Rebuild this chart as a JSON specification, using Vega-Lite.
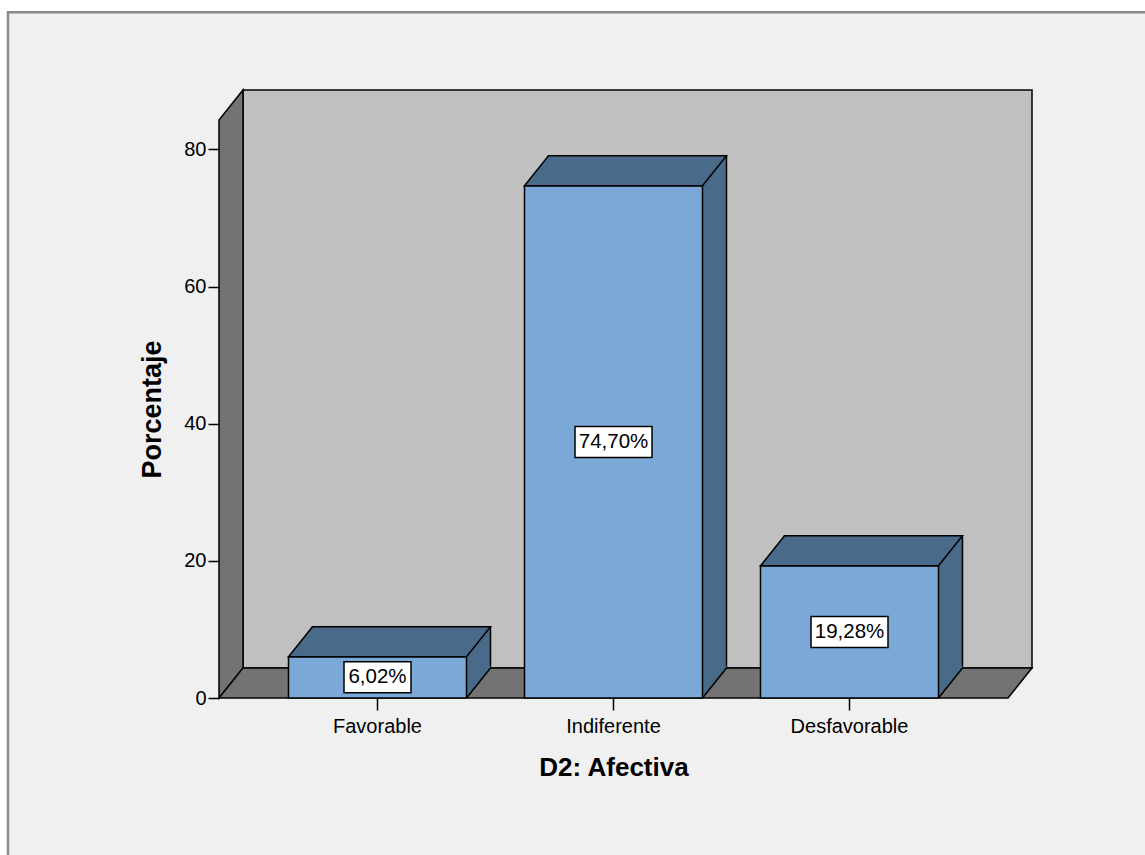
{
  "$schema": "https://vega.github.io/schema/vega-lite/v6.json",
  "width": 789,
  "height": 578,
  "autosize": {"type": "none"},
  "padding": {"left": 219, "top": 120, "right": 137, "bottom": 157},
  "background": "white",
  "config": {
    "view": {"stroke": null},
    "font": "Liberation Sans",
    "locale": {
      "number": {"decimal": ",", "thousands": ".", "grouping": [3], "currency": ["", "%"]}
    }
  },
  "datasets": {
    "afectiva": [
      {"Categoria": "Favorable", "porcentaje": 6.02},
      {"Categoria": "Indiferente", "porcentaje": 74.70},
      {"Categoria": "Desfavorable", "porcentaje": 19.28}
    ]
  },
  "data": {"name": "afectiva"},
  "resolve": {"scale": {"y": "independent"}},
  "layer": [
    {
      "layer": [
        {
          "data": {"values": [{}]},
          "mark": {"type": "point", "shape": "M -605.5 0 H 1000 V 1000 H -605.5 Z", "size": 4, "filled": true, "fill": "#f0f0f0", "stroke": "#8a8a8a", "strokeWidth": 2.5, "opacity": 1},
          "encoding": {"y": {"datum": 100, "type": "quantitative", "scale": {"domain": [0, 84.3], "nice": false}}}
        },
        {
          "data": {"values": [{}]},
          "mark": {"type": "point", "shape": "M -370.5 -30 H 418.5 V -608 H -370.5 Z", "size": 4, "filled": true, "fill": "#c0c0c0", "stroke": "#000000", "strokeWidth": 1.5, "opacity": 1},
          "encoding": {"y": {"datum": 0, "type": "quantitative", "scale": {"domain": [0, 84.3], "nice": false}}}
        },
        {
          "data": {"values": [{}]},
          "mark": {"type": "point", "shape": "M -394.5 0 V -578 L -370.5 -608 V -30 Z", "size": 4, "filled": true, "fill": "#737373", "stroke": "#000000", "strokeWidth": 1.5, "opacity": 1},
          "encoding": {"y": {"datum": 0, "type": "quantitative", "scale": {"domain": [0, 84.3], "nice": false}}}
        },
        {
          "data": {"values": [{}]},
          "mark": {"type": "point", "shape": "M -394.5 0 H 394.5 L 418.5 -30 H -370.5 Z", "size": 4, "filled": true, "fill": "#737373", "stroke": "#000000", "strokeWidth": 1.5, "opacity": 1},
          "encoding": {"y": {"datum": 0, "type": "quantitative", "scale": {"domain": [0, 84.3], "nice": false}}}
        },
        {
          "mark": {"type": "bar", "fill": "#4a6a89", "stroke": "#000000", "strokeWidth": 1.5, "xOffset": 24, "yOffset": -30, "y2Offset": -30},
          "encoding": {
            "x": {"field": "Categoria", "type": "nominal", "sort": null, "scale": {"paddingInner": 0.24576, "paddingOuter": 0.29449}},
            "y": {"field": "porcentaje", "type": "quantitative", "scale": {"domain": [0, 84.3], "nice": false}}
          }
        },
        {
          "mark": {"type": "point", "shape": "M 89 0 L 113 -30 V -32 H 89 Z", "size": 4, "filled": true, "fill": "#4a6a89", "strokeWidth": 0, "opacity": 1},
          "encoding": {
            "x": {"field": "Categoria", "type": "nominal", "sort": null},
            "y": {"datum": 0, "type": "quantitative", "scale": {"domain": [0, 84.3], "nice": false}}
          }
        },
        {
          "mark": {"type": "point", "shape": "M 89 0 L 113 -30", "size": 4, "filled": false, "stroke": "#000000", "strokeWidth": 1.5, "opacity": 1},
          "encoding": {
            "x": {"field": "Categoria", "type": "nominal", "sort": null},
            "y": {"datum": 0, "type": "quantitative", "scale": {"domain": [0, 84.3], "nice": false}}
          }
        },
        {
          "mark": {"type": "bar", "fill": "#7aa9d8", "stroke": "#000000", "strokeWidth": 1.5},
          "encoding": {
            "x": {
              "field": "Categoria", "type": "nominal", "sort": null, "title": "D2: Afectiva",
              "axis": {"zindex": 1, "labelAngle": 0, "labelAlign": "center", "labelBaseline": "top", "domain": false, "tickColor": "#000000", "tickWidth": 1.5, "tickSize": 12, "labelPadding": 6, "labelFontSize": 20, "labelColor": "#000000", "titleFontSize": 26, "titleFontWeight": "bold", "titleColor": "#000000", "titlePadding": 18}
            },
            "y": {
              "field": "porcentaje", "type": "quantitative", "title": "Porcentaje",
              "scale": {"domain": [0, 84.3], "nice": false},
              "axis": {"zindex": 1, "values": [0, 20, 40, 60, 80], "grid": false, "domain": false, "tickColor": "#000000", "tickWidth": 1.5, "tickSize": 11, "labelPadding": 2, "labelFontSize": 20, "labelColor": "#000000", "titleFontSize": 27, "titleFontWeight": "bold", "titleColor": "#000000", "titlePadding": 17}
            }
          }
        },
        {
          "mark": {"type": "point", "shape": "M -89 0 H 89 L 113 -30 H -65 Z", "size": 4, "filled": true, "fill": "#4a6a89", "stroke": "#000000", "strokeWidth": 1.5, "opacity": 1},
          "encoding": {
            "x": {"field": "Categoria", "type": "nominal", "sort": null},
            "y": {"field": "porcentaje", "type": "quantitative", "scale": {"domain": [0, 84.3], "nice": false}}
          }
        }
      ]
    },
    {
      "encoding": {
        "x": {"field": "Categoria", "type": "nominal", "sort": null},
        "y": {"field": "porcentaje", "type": "quantitative", "scale": {"domain": [0, 168.6], "nice": false}, "axis": null}
      },
      "layer": [
        {
          "mark": {"type": "point", "size": 4, "filled": true, "fill": "#ffffff", "stroke": "#000000", "strokeWidth": 1.5, "opacity": 1},
          "encoding": {
            "shape": {
              "field": "Categoria", "type": "nominal", "legend": null,
              "scale": {
                "domain": ["Favorable", "Indiferente", "Desfavorable"],
                "range": ["M -33.5 -15.5 H 33.5 V 15.5 H -33.5 Z", "M -38.5 -15.5 H 38.5 V 15.5 H -38.5 Z", "M -38.5 -15.5 H 38.5 V 15.5 H -38.5 Z"]
              }
            }
          }
        },
        {
          "mark": {"type": "text", "fontSize": 20.5, "color": "#000000", "align": "center", "baseline": "middle"},
          "encoding": {"text": {"field": "porcentaje", "type": "quantitative", "format": "$.2f"}}
        }
      ]
    }
  ]
}
